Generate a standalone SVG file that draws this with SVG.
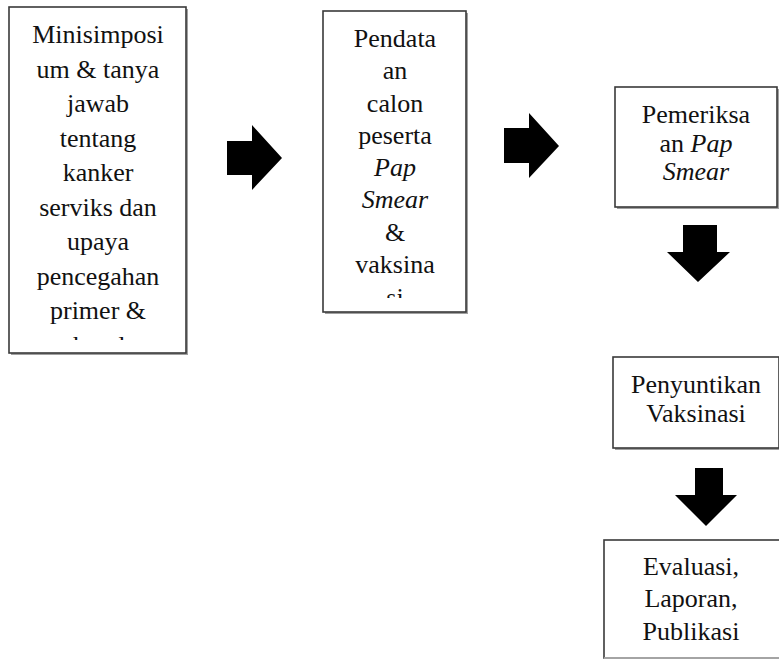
<svg xmlns="http://www.w3.org/2000/svg" width="779" height="660" viewBox="0 0 779 660">
<style>
.box{fill:#ffffff;stroke:#3a3a3a;stroke-width:1.6}
.shadow{fill:#a0a0a0}
text{font-family:'Liberation Serif','Times New Roman',Times,serif;font-size:26px;fill:#111111;text-anchor:middle}
.i{font-style:italic}
.arrow{fill:#000000}
</style>
<defs>
<clipPath id="c1"><rect x="10" y="8" width="175" height="332"/></clipPath>
<clipPath id="c2"><rect x="324" y="12" width="141" height="286"/></clipPath>
</defs>
<g id="n1">
<rect class="shadow" x="11" y="9" width="177" height="346"/>
<rect class="box" x="9" y="7" width="177" height="346"/>
<g clip-path="url(#c1)">
<text x="98" y="43">Minisimposi</text>
<text x="98" y="77.5">um &amp; tanya</text>
<text x="98" y="112">jawab</text>
<text x="98" y="146.5">tentang</text>
<text x="98" y="181">kanker</text>
<text x="98" y="215.5">serviks dan</text>
<text x="98" y="250">upaya</text>
<text x="98" y="284.5">pencegahan</text>
<text x="98" y="319">primer &amp;</text>
<text x="98" y="354">sekunder</text>
</g>
</g>
<g id="n2">
<rect class="shadow" x="325" y="13" width="143" height="301"/>
<rect class="box" x="323" y="11" width="143" height="301"/>
<g clip-path="url(#c2)">
<text x="395" y="47">Pendata</text>
<text x="395" y="79">an</text>
<text x="395" y="112">calon</text>
<text x="395" y="144">peserta</text>
<text class="i" x="395" y="176">Pap</text>
<text class="i" x="395" y="208">Smear</text>
<text x="395" y="241">&amp;</text>
<text x="395" y="273">vaksina</text>
<text x="395" y="306">si</text>
</g>
</g>
<g id="n3">
<rect class="shadow" x="617" y="89" width="162" height="120"/>
<rect class="box" x="615" y="87" width="162" height="120"/>
<text x="696" y="123">Pemeriksa</text>
<text x="696" y="152">an <tspan class="i">Pap</tspan></text>
<text class="i" x="696" y="180">Smear</text>
</g>
<g id="n4">
<rect class="shadow" x="615" y="359" width="166" height="91"/>
<rect class="box" x="613" y="357" width="166" height="91"/>
<text x="696" y="393">Penyuntikan</text>
<text x="696" y="422">Vaksinasi</text>
</g>
<g id="n5">
<rect class="box" x="604" y="540" width="178" height="118"/>
<line x1="604" y1="658" x2="779" y2="658" stroke="#bbbbbb" stroke-width="1.6"/>
<text x="691" y="575">Evaluasi,</text>
<text x="691" y="607">Laporan,</text>
<text x="691" y="640">Publikasi</text>
</g>
<g id="connectors">
<polygon class="arrow" points="227,141 252,141 252,125 282,158 252,190 252,175 227,175"/>
<polygon class="arrow" points="504,128 529,128 529,113 559,146 529,178 529,163 504,163"/>
<polygon class="arrow" points="683,225 717,225 717,252 730,252 698,282 667,252 683,252"/>
<polygon class="arrow" points="695,468 723,468 723,495 737,495 706,526 675,495 695,495"/>
</g>
</svg>
